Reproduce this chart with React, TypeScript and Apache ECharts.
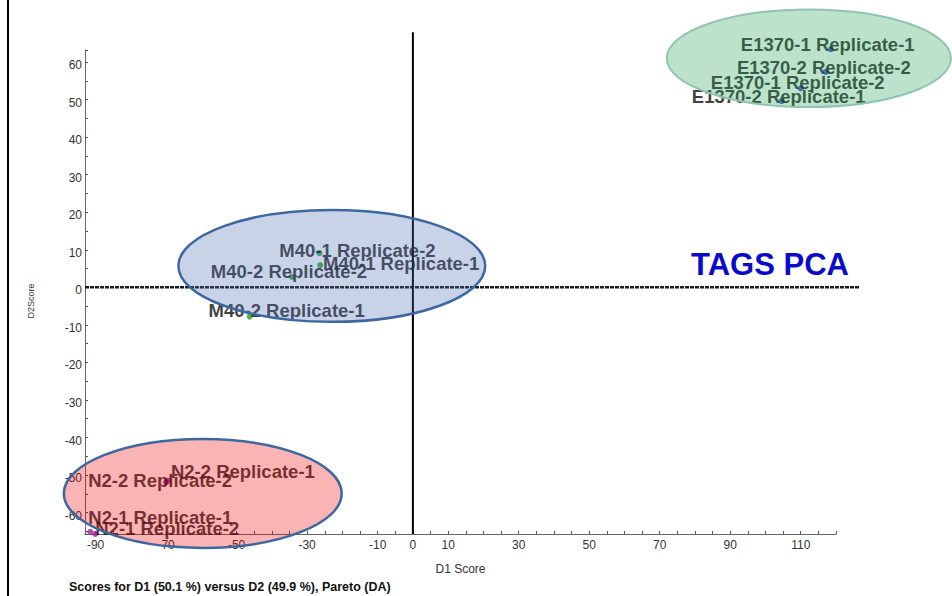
import { useEffect, useRef } from "react";
import * as echarts from "echarts";

// Sample scores (D1, D2) per group
const e1370Names = ["E1370-1 Replicate-1", "E1370-2 Replicate-2", "E1370-1 Replicate-2", "E1370-2 Replicate-1"];
const e1370D1 = [118.5, 117.1, 110.0, 104.6];
const e1370D2 = [63.4, 57.4, 53.0, 49.6];

const m40Names = ["M40-1 Replicate-2", "M40-1 Replicate-1", "M40-2 Replicate-2", "M40-2 Replicate-1"];
const m40D1 = [-26.5, -26.3, -34.3, -46.3];
const m40D2 = [9.1, 5.9, 2.8, -7.8];

const n2Names = ["N2-2 Replicate-2", "N2-2 Replicate-1", "N2-1 Replicate-1", "N2-1 Replicate-2"];
const n2D1 = [-70.0, -69.5, -91.5, -90.1];
const n2D2 = [-51.9, -51.5, -65.1, -65.7];

// Axis ranges
const d1Range = [-93, 120];
const d2Range = [-65.7, 63.2];

// Label nudges (px) so overlapping names stay readable
const e1370LabelShift = [[-3, -5], [-2, -4], [-3, -6], [-3, -5]];
const m40LabelShift = [[38, -3], [81, -2], [-3, -5], [37, -6]];
const n2LabelShift = [[-6, -2], [75, -9], [70, -14], [72, -6]];

// Group outlines in score units: [centerD1, centerD2, radiusD1, radiusD2]
const e1370Hull = [112.3, 61.0, 40.3, 13.0];
const m40Hull = [-23.0, 5.7, 43.5, 14.9];
const n2Hull = [-59.6, -54.9, 39.4, 14.5];

const FONT = '"Liberation Sans", Arial, sans-serif';

function points(names: string[], xs: number[], ys: number[], shifts: number[][]) {
  return names.map((name, i) => ({
    name,
    value: [xs[i], ys[i]],
    label: { offset: shifts[i] },
  }));
}

function scatter(name: string, data: any[], color: string) {
  return {
    name,
    type: "scatter",
    clip: false,
    symbolSize: 6,
    itemStyle: { color },
    label: {
      show: true,
      position: "inside",
      formatter: "{b}",
      color: "#0d0d0d",
      fontSize: 18.5,
      fontWeight: "bold",
      fontFamily: FONT,
    },
    data,
  };
}

function isOddTenOrZero(v: number) {
  const k = Math.round(v / 10);
  if (Math.abs(v - k * 10) > 1e-6) return false;
  return k === 0 || Math.abs(k) % 2 === 1;
}

export default function App() {
  const ref = useRef<HTMLDivElement>(null);

  useEffect(() => {
    const chart = echarts.init(ref.current!, null, { renderer: "svg" });
    const tickStyle = { color: "#555", width: 1 };
    chart.setOption({
      animation: false,
      backgroundColor: "#fff",
      grid: { left: 85, right: 116, top: 50, bottom: 62 },
      xAxis: {
        type: "value",
        min: d1Range[0],
        max: d1Range[1],
        minInterval: 10,
        maxInterval: 10,
        name: "D1 Score",
        nameLocation: "middle",
        nameGap: 29,
        nameTextStyle: { color: "#333", fontSize: 12, fontFamily: FONT },
        axisLine: { onZero: false, lineStyle: { color: "#666", width: 1 } },
        axisTick: { inside: true, length: 3, lineStyle: tickStyle },
        minorTick: { show: true, splitNumber: 2, length: 3, lineStyle: tickStyle },
        splitLine: { show: false },
        axisLabel: {
          color: "#333",
          fontSize: 12,
          fontFamily: FONT,
          margin: 5,
          showMinLabel: false,
          showMaxLabel: false,
          formatter: (v: number) => (isOddTenOrZero(v) ? String(Math.round(v)) : ""),
        },
      },
      yAxis: {
        type: "value",
        min: d2Range[0],
        max: d2Range[1],
        minInterval: 10,
        maxInterval: 10,
        name: "D2Score",
        nameLocation: "middle",
        nameGap: 50,
        nameTextStyle: { color: "#333", fontSize: 9, fontFamily: FONT, padding: [0, 18, 0, 0] },
        axisLine: { onZero: false, lineStyle: { color: "#666", width: 1 } },
        axisTick: { inside: true, length: 3, lineStyle: tickStyle },
        minorTick: { show: true, splitNumber: 2, length: 3, lineStyle: tickStyle },
        splitLine: { show: false },
        axisLabel: {
          color: "#333",
          fontSize: 12,
          fontFamily: FONT,
          margin: 3,
          verticalAlign: "top",
          lineHeight: 6,
          showMinLabel: false,
          showMaxLabel: false,
          formatter: (v: number) => {
            const k = Math.round(v / 10);
            return Math.abs(v - k * 10) < 1e-6 ? String(k * 10) : "";
          },
        },
      },
      series: [
        scatter("E1370", points(e1370Names, e1370D1, e1370D2, e1370LabelShift), "#1f3fd6"),
        scatter("M40", points(m40Names, m40D1, m40D2, m40LabelShift), "#1f9f2a"),
        scatter("N2", points(n2Names, n2D1, n2D2, n2LabelShift), "#a0209a"),
      ],
    });

    const toPx = (x: number, y: number) =>
      chart.convertToPixel({ gridIndex: 0 }, [x, y]) as number[];

    const hull = (h: number[], fill: string, stroke: string, lineWidth: number) => {
      const c = toPx(h[0], h[1]);
      const ex = toPx(h[0] + h[2], h[1]);
      const ey = toPx(h[0], h[1] + h[3]);
      return {
        type: "ellipse",
        z: 100,
        silent: true,
        shape: { cx: c[0], cy: c[1], rx: Math.abs(ex[0] - c[0]), ry: Math.abs(c[1] - ey[1]) },
        style: { fill, stroke, lineWidth },
      };
    };

    // Zero reference lines run a little past the plotting area
    const h0 = toPx(d1Range[0], 0);
    const h1 = toPx(126.8, 0);
    const v0 = toPx(0, d2Range[0]);
    const v1 = toPx(0, 67.9);

    chart.setOption({
      graphic: [
        {
          type: "rect",
          z: 1,
          silent: true,
          shape: { x: 7, y: 0, width: 2, height: 596 },
          style: { fill: "#000" },
        },
        {
          type: "line",
          z: 1,
          silent: true,
          shape: { x1: h0[0], y1: h0[1], x2: h1[0], y2: h1[1] },
          style: { stroke: "#1a1a1a", lineWidth: 2.5, lineDash: [4, 1] },
        },
        {
          type: "line",
          z: 1,
          silent: true,
          shape: { x1: v0[0], y1: v0[1], x2: v1[0], y2: v1[1] },
          style: { stroke: "#000", lineWidth: 2 },
        },
        hull(m40Hull, "rgba(75,108,178,0.3)", "#3c68a2", 2.5),
        hull(n2Hull, "rgba(238,8,8,0.3)", "#3c68a2", 2.5),
        hull(e1370Hull, "rgba(32,158,82,0.3)", "#90c4ae", 2),
        {
          type: "text",
          z: 110,
          silent: true,
          x: 770,
          y: 264,
          style: {
            text: "TAGS PCA",
            fill: "#0a0acc",
            font: `bold 31px ${FONT}`,
            align: "center",
            verticalAlign: "middle",
          },
        },
        {
          type: "text",
          z: 110,
          silent: true,
          x: 69,
          y: 587,
          style: {
            text: "Scores for D1 (50.1 %) versus D2 (49.9 %), Pareto (DA)",
            fill: "#111",
            font: `bold 12.5px ${FONT}`,
            align: "left",
            verticalAlign: "middle",
          },
        },
      ],
    });

    return () => chart.dispose();
  }, []);

  return (
    <div
      ref={ref}
      style={{ position: "absolute", left: 0, top: 0, width: 952, height: 596 }}
    />
  );
}
